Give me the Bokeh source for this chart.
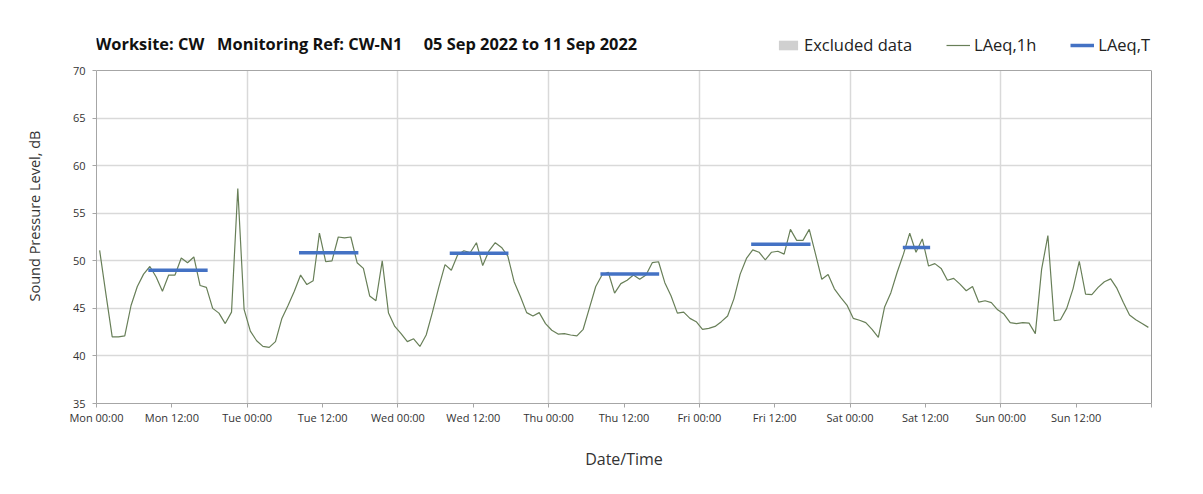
import numpy as np
from bokeh.plotting import figure
from bokeh.models import (FixedTicker, Legend, LegendItem, ColumnDataSource, Range1d,
                          Label, Span, LinearAxis, Grid)
from bokeh.embed import file_html
from bokeh.resources import INLINE

# ---------------- data ----------------
days = ["Mon", "Tue", "Wed", "Thu", "Fri", "Sat", "Sun"]
tick_times = ["00:00", "12:00"]
chart_title = ("Worksite: CW\u00a0\u00a0\u00a0Monitoring Ref: CW-N1"
               "\u00a0\u00a0\u00a0\u00a0\u00a005 Sep 2022 to 11 Sep 2022")
y_min, y_max = 35, 70

# hourly LAeq,1h values (dB), one list per day, hour 00 .. 23
laeq_1h_mon = [51.1, 46.5, 42.0, 42.0, 42.1, 45.3, 47.3, 48.6, 49.4, 48.3, 46.8, 48.5,
               48.5, 50.3, 49.8, 50.4, 47.4, 47.2, 45.0, 44.5, 43.4, 44.6, 57.6, 44.9]
laeq_1h_tue = [42.6, 41.6, 41.0, 40.9, 41.5, 43.9, 45.3, 46.8, 48.5, 47.5, 47.9, 52.9,
               49.9, 50.0, 52.5, 52.4, 52.5, 49.8, 49.2, 46.3, 45.8, 50.0, 44.5, 43.1]
laeq_1h_wed = [42.35, 41.5, 41.8, 41.0, 42.2, 44.6, 47.2, 49.6, 49.0, 50.6, 51.05, 50.85,
               51.9, 49.5, 51.05, 51.9, 51.4, 50.5, 47.8, 46.25, 44.55, 44.2, 44.55, 43.4]
laeq_1h_thu = [42.7, 42.3, 42.35, 42.2, 42.1, 42.8, 45.05, 47.3, 48.5, 48.8, 46.6, 47.6,
               47.95, 48.5, 48.05, 48.5, 49.8, 49.9, 47.7, 46.3, 44.5, 44.6, 43.95, 43.6]
laeq_1h_fri = [42.8, 42.9, 43.1, 43.6, 44.2, 46.0, 48.6, 50.25, 51.15, 50.9, 50.1, 50.9,
               51.0, 50.7, 53.3, 52.15, 52.15, 53.3, 50.7, 48.05, 48.55, 47.05, 46.15, 45.35]
laeq_1h_sat = [43.95, 43.75, 43.5, 42.8, 41.95, 45.15, 46.65, 48.8, 50.7, 52.9, 50.9, 52.3,
               49.45, 49.7, 49.2, 47.95, 48.15, 47.55, 46.85, 47.3, 45.65, 45.8, 45.6, 44.85]
laeq_1h_sun = [44.4, 43.5, 43.4, 43.5, 43.45, 42.35, 49.1, 52.65, 43.7, 43.8, 45.0, 47.05,
               49.95, 46.5, 46.45, 47.2, 47.8, 48.1, 47.1, 45.65, 44.3, 43.8, 43.4, 43.0]

# LAeq,T (daytime period) per day
laeq_t_day = ["Mon", "Tue", "Wed", "Thu", "Fri", "Sat"]
laeq_t_value = [49.0, 50.85, 50.8, 48.6, 51.75, 51.4]
laeq_t_start_hour = [8.25, 8.25, 8.25, 8.25, 8.25, 8.4]
laeq_t_end_hour = [17.7, 17.7, 17.6, 17.6, 17.7, 12.75]

# excluded periods: none in this week
excluded_start = [np.nan]
excluded_end = [np.nan]

# ---------------- build sources ----------------
all_days = [laeq_1h_mon, laeq_1h_tue, laeq_1h_wed, laeq_1h_thu,
            laeq_1h_fri, laeq_1h_sat, laeq_1h_sun]
x_h, y_h = [], []
for d, vals in enumerate(all_days):
    for h, v in enumerate(vals):
        x_h.append(d * 24 + h + 0.5)   # hourly interval mid-point
        y_h.append(v)
src_1h = ColumnDataSource(dict(x=x_h, y=y_h))

day_index = {d: i for i, d in enumerate(days)}
src_t = ColumnDataSource(dict(
    x0=[day_index[d] * 24 + s for d, s in zip(laeq_t_day, laeq_t_start_hour)],
    x1=[day_index[d] * 24 + e for d, e in zip(laeq_t_day, laeq_t_end_hour)],
    y=laeq_t_value,
))
src_excl = ColumnDataSource(dict(left=excluded_start, right=excluded_end,
                                 top=[y_max] * len(excluded_start),
                                 bottom=[y_min] * len(excluded_start)))
x_end = len(days) * 24

# ---------------- figure ----------------
FONT = "Open Sans"
PLOT_H = 333          # px for the 35..70 dB span
HEADER = 42           # extra px of frame above 70 dB for title + legend
y_top = y_max + HEADER * (y_max - y_min) / PLOT_H

p = figure(width=1195, height=490, x_range=Range1d(0, x_end), y_range=Range1d(y_min, y_top),
           output_backend="svg", toolbar_location=None,
           min_border_left=96, min_border_right=44, min_border_top=28, min_border_bottom=87)
p.background_fill_color = "white"
p.border_fill_color = "white"
p.outline_line_color = None

# grid
p.xgrid.ticker = FixedTicker(ticks=list(range(0, x_end + 1, 24)))
p.ygrid.ticker = FixedTicker(ticks=list(range(y_min, y_max, 5)))
for g in (p.xgrid[0], p.ygrid[0]):
    g.grid_line_color = "#d9d9d9"
    g.grid_line_width = 1.5
has_cross = "cross_bounds" in Grid.properties()
if has_cross:
    p.xgrid.cross_bounds = (y_min, y_max)
else:
    p.xgrid.visible = False
    day_bounds = list(range(24, x_end, 24))
    p.segment(x0=day_bounds, x1=day_bounds, y0=[y_min] * len(day_bounds),
              y1=[y_max] * len(day_bounds), line_color="#d9d9d9", line_width=1.5)

excl = p.quad(left="left", right="right", top="top", bottom="bottom", source=src_excl,
              fill_color="#d0d0d0", line_color=None)
r1h = p.line("x", "y", source=src_1h, line_color="#687f58", line_width=1.2)
rt = p.segment(x0="x0", x1="x1", y0="y", y1="y", source=src_t,
               line_color="#4472c4", line_width=3.5)

# plot-area top border
p.add_layout(Span(location=y_max, dimension="width", line_color="#a6a6a6", line_width=1))

# axes
xticks = list(range(0, x_end + 1, 12))
labels = {}
for i, t in enumerate(xticks):
    if i < len(days) * 2:
        labels[t] = f"{days[i // 2]} {tick_times[i % 2]}"
    else:
        labels[t] = ""
p.xaxis.ticker = FixedTicker(ticks=xticks)
p.xaxis.major_label_overrides = labels
p.yaxis.ticker = FixedTicker(ticks=list(range(y_min, y_max + 1, 5)))
p.yaxis.bounds = (y_min, y_max)

for ax in (p.xaxis[0], p.yaxis[0]):
    ax.axis_line_color = "#a6a6a6"
    ax.major_tick_line_color = "#a6a6a6"
    ax.major_tick_in = 0
    ax.major_tick_out = 4
    ax.minor_tick_line_color = None
    ax.major_label_text_font = FONT
    ax.major_label_text_font_size = "11px"
    ax.major_label_text_color = "#333333"
    ax.axis_label_text_font = FONT
    ax.axis_label_text_font_style = "normal"
    ax.axis_label_text_color = "#333333"

p.xaxis.axis_label = "Date/Time"
p.yaxis.axis_label = "Sound Pressure Level, dB"
p.xaxis.axis_label_text_font_size = "16px"
p.yaxis.axis_label_text_font_size = "14.5px"
p.xaxis.major_label_standoff = 2
p.xaxis.axis_label_standoff = 20
p.yaxis.major_label_standoff = 7
p.yaxis.axis_label_standoff = 26

# right border of the plot area
right_ax = LinearAxis(bounds=(y_min, y_max), ticker=FixedTicker(ticks=[]),
                      axis_line_color="#9a9a9a", major_tick_line_color=None,
                      minor_tick_line_color=None, major_label_text_font_size="0px")
p.add_layout(right_ax, "right")

# title
p.add_layout(Label(x=0, y=y_max, x_offset=-1, y_offset=27, text=chart_title,
                   text_font=FONT, text_font_size="16.4px", text_font_style="bold",
                   text_color="#111111", text_baseline="middle", text_align="left"))

legend = Legend(items=[
    LegendItem(label="Excluded data", renderers=[excl]),
    LegendItem(label="LAeq,1h", renderers=[r1h]),
    LegendItem(label="LAeq,T", renderers=[rt]),
], location=(680, 347), orientation="horizontal")
legend.background_fill_alpha = 0
legend.border_line_alpha = 0
legend.label_text_font = FONT
legend.label_text_font_size = "16.5px"
legend.label_text_color = "#222222"
legend.glyph_width = 24
legend.glyph_height = 12
legend.spacing = 34
legend.padding = 0
legend.margin = 0
legend.label_standoff = 4
p.add_layout(legend)

open("out.html", "w").write(file_html(p, INLINE))
